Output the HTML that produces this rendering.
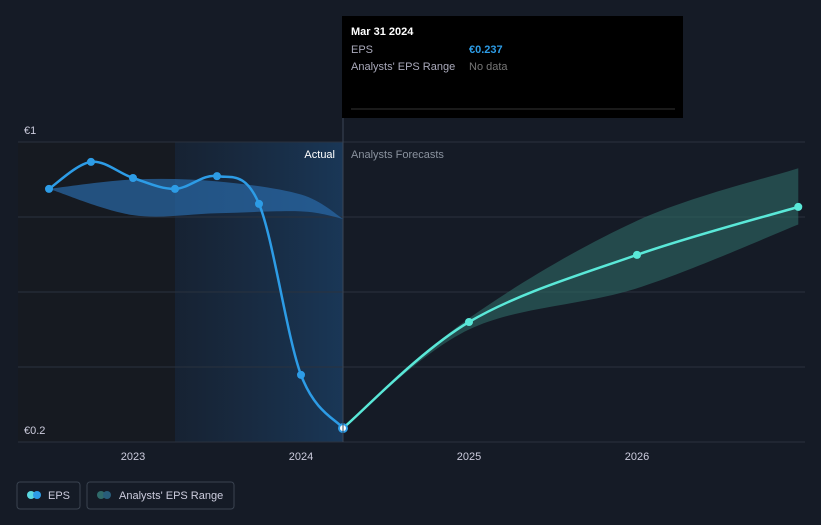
<!DOCTYPE html>
<html><head><meta charset="utf-8"><style>
body{margin:0;background:#151b26;font-family:"Liberation Sans",sans-serif;}
svg text{font-family:"Liberation Sans",sans-serif;}
</style></head><body>
<svg id="c" width="821" height="520" xmlns="http://www.w3.org/2000/svg">
<defs>
<linearGradient id="hl" x1="0" x2="1"><stop offset="0" stop-color="#1a3350" stop-opacity="0.3"/><stop offset="1" stop-color="#1a3a5c" stop-opacity="0.9"/></linearGradient>
</defs>
<rect width="821" height="520" fill="#151b26"/>
<rect x="18" y="142" width="157" height="300" fill="#161a21"/>
<rect x="175" y="142" width="168" height="300" fill="url(#hl)"/>
<g id="grid"></g>
<g id="marks"></g>
<line x1="343" y1="16" x2="343" y2="442" stroke="#3a4656" stroke-width="1"/>
<text x="335" y="158" fill="#ffffff" font-size="11" text-anchor="end">Actual</text>
<text x="351" y="158" fill="#8a929e" font-size="11">Analysts Forecasts</text>
<g>
<rect x="342" y="16" width="341" height="102" fill="#000"/>
<text x="351" y="35" fill="#fff" font-size="11" font-weight="bold">Mar 31 2024</text>
<text x="351" y="53" fill="#aab" font-size="11">EPS</text>
<text x="469" y="53" fill="#2d9ce6" font-size="11" font-weight="bold">€0.237</text>
<text x="351" y="70" fill="#aab" font-size="11">Analysts' EPS Range</text>
<text x="469" y="70" fill="#777" font-size="11">No data</text>
<line x1="351" y1="109" x2="675" y2="109" stroke="#333"/>
</g>
<g>
<rect x="17" y="482" width="63" height="27" rx="3" fill="none" stroke="#3a4350"/>
<circle cx="31" cy="495" r="4" fill="#5ad8e0"/><circle cx="37" cy="495" r="4" fill="#2d9ce6"/>
<text x="48" y="499" fill="#ccd" font-size="11">EPS</text>
<rect x="87" y="482" width="147" height="27" rx="3" fill="none" stroke="#3a4350"/>
<circle cx="101" cy="495" r="4" fill="#2f6a6a"/><circle cx="107" cy="495" r="4" fill="#285d7a"/>
<text x="119" y="499" fill="#ccd" font-size="11">Analysts' EPS Range</text>
</g>
</svg>
<script>
const pastDates=[2022.5,2022.75,2023,2023.25,2023.5,2023.75,2024,2024.25];
const pastEps=[0.875,0.947,0.904,0.875,0.909,0.835,0.379,0.237];
const fcDates=[2024.25,2025,2026,2026.96];
const fcEps=[0.237,0.52,0.699,0.827];
const fcHigh=[0.237,0.53,0.79,0.93];
const fcLow=[0.237,0.5,0.61,0.78];
const pastRangeDates=[2022.5,2023,2023.5,2024,2024.25];
const pastHigh=[0.875,0.9,0.895,0.86,0.795];
const pastLow=[0.875,0.805,0.81,0.815,0.795];
const yTicks=[1,0.8,0.6,0.4,0.2];
const yLabels=["€1","€0.2"];
const xTicks=[2023,2024,2025,2026];
const X=d=>133+(d-2023)*168;
const Y=v=>142+(1-v)*375;
const ns="http://www.w3.org/2000/svg";
const g=document.getElementById('grid'),m=document.getElementById('marks');
function el(t,a,p){const e=document.createElementNS(ns,t);for(const k in a)e.setAttribute(k,a[k]);p.appendChild(e);return e;}
yTicks.forEach(v=>{const l=el('line',{x1:18,x2:805,y1:Y(v),y2:Y(v),stroke:'#2a323e'},g);});
[[yTicks[0],yLabels[0]],[yTicks[4],yLabels[1]]].forEach(([v,s])=>{const t=el('text',{x:24,y:Y(v)-8,fill:'#ccd','font-size':11},g);t.textContent=s;});
xTicks.forEach(d=>{const t=el('text',{x:X(d),y:460,fill:'#ccd','font-size':11,'text-anchor':'middle'},g);t.textContent=d;});
function smooth(pts){let s=`M${pts[0][0]},${pts[0][1]}`;for(let i=0;i<pts.length-1;i++){const p0=pts[i-1]||pts[i],p1=pts[i],p2=pts[i+1],p3=pts[i+2]||p2;const c1=[p1[0]+(p2[0]-p0[0])/6,p1[1]+(p2[1]-p0[1])/6],c2=[p2[0]-(p3[0]-p1[0])/6,p2[1]-(p3[1]-p1[1])/6];s+=`C${c1[0]},${c1[1]} ${c2[0]},${c2[1]} ${p2[0]},${p2[1]}`;}return s;}
function band(ds,hi,lo){const a=ds.map((d,i)=>[X(d),Y(hi[i])]),b=ds.map((d,i)=>[X(d),Y(lo[i])]).reverse();return smooth(a)+smooth(b).replace('M','L')+'Z';}
let e=el('path',{d:band(pastRangeDates,pastHigh,pastLow),fill:'#2a6aa8','fill-opacity':0.7},m);
e=el('path',{d:band(fcDates,fcHigh,fcLow),fill:'#2f6a66','fill-opacity':0.6},m);
e=el('path',{d:smooth(pastDates.map((d,i)=>[X(d),Y(pastEps[i])])),fill:'none',stroke:'#2d9ce6','stroke-width':2.5},m);
e=el('path',{d:smooth(fcDates.map((d,i)=>[X(d),Y(fcEps[i])])),fill:'none',stroke:'#5ae8d8','stroke-width':2.5},m);
pastDates.forEach((d,i)=>{if(i==pastDates.length-1)return;const c=el('circle',{cx:X(d),cy:Y(pastEps[i]),r:4,fill:'#2d9ce6'},m);});
fcDates.forEach((d,i)=>{if(i==0)return;const c=el('circle',{cx:X(d),cy:Y(fcEps[i]),r:4,fill:'#5ae8d8'},m);});
e=el('circle',{cx:X(2024.25),cy:Y(0.237),r:4,fill:'#fff',stroke:'#2d9ce6','stroke-width':2},m);
</script>
</body></html>
